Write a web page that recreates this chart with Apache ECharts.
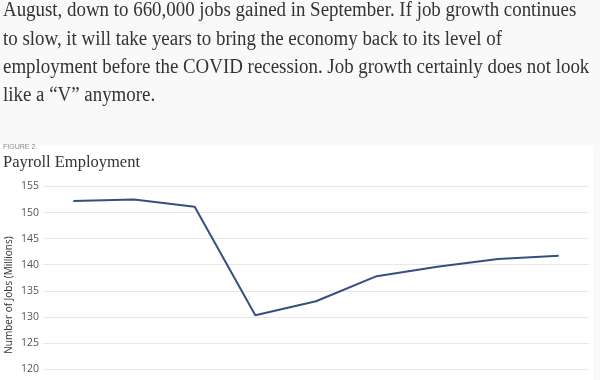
<!DOCTYPE html>
<html>
<head>
<meta charset="utf-8">
<script src="https://cdn.jsdelivr.net/npm/echarts@6/dist/echarts.min.js"></script>
<style>
html,body{margin:0;padding:0;background:#f9f9f9;}
#c{width:600px;height:380px;}
</style>
</head>
<body>
<div id="c"></div>
<script>
var months = ['Jan 2020','Feb 2020','Mar 2020','Apr 2020','May 2020','Jun 2020','Jul 2020','Aug 2020','Sep 2020'];
var payroll = [152.2, 152.5, 151.1, 130.3, 133.0, 137.8, 139.6, 141.1, 141.7];
var yTicks = [120, 125, 130, 135, 140, 145, 150, 155];
var yAxisName = 'Number of Jobs (Millions)';
var paragraph = [
  'August, down to 660,000 jobs gained in September. If job growth continues',
  'to slow, it will take years to bring the economy back to its level of',
  'employment before the COVID recession. Job growth certainly does not look',
  'like a \u201CV\u201D anymore.'
];

var chart = echarts.init(document.getElementById('c'), null, {renderer:'canvas'});
var graphics = [
  {type:'rect', shape:{x:0,y:145,width:593,height:240}, style:{fill:'#ffffff'}, z:-10, silent:true}
];
var lineY = [11, 40, 68, 96];
paragraph.forEach(function(t,i){
  graphics.push({type:'text', x:3, y:lineY[i], scaleX:0.945,
    style:{text:t, font:'20px "Liberation Serif", serif', fill:'#333333', textVerticalAlign:'middle'}});
});
graphics.push({type:'text', x:3, y:147, style:{text:'FIGURE 2.', font:'7px "Liberation Sans", sans-serif', fill:'#888888', textVerticalAlign:'middle'}});
graphics.push({type:'text', x:3, y:163, style:{text:'Payroll Employment', font:'16.5px "Liberation Serif", serif', fill:'#333333', textVerticalAlign:'middle'}});
graphics.push({type:'text', x:9, y:295, rotation:Math.PI/2,
  style:{text:yAxisName, font:'10px "Open Sans", sans-serif', fill:'#333333', textAlign:'center', textVerticalAlign:'middle'}});

chart.setOption({
  backgroundColor:'#f9f9f9',
  animation:false,
  graphic: graphics,
  grid:{left:43, right:11, top:186.5, bottom:11, containLabel:false},
  xAxis:{
    type:'category', data:months, boundaryGap:true,
    axisLine:{show:false}, axisTick:{show:false}, axisLabel:{show:false}
  },
  yAxis:{
    type:'value', min:yTicks[0], max:yTicks[yTicks.length-1], interval:5,
    axisLine:{show:false}, axisTick:{show:false},
    axisLabel:{fontFamily:'Open Sans', fontSize:10.5, color:'#555555', margin:4},
    splitLine:{lineStyle:{color:'#e8e8e8', width:1.2}}
  },
  series:[{
    type:'line', data:payroll, symbol:'none',
    lineStyle:{color:'#34507e', width:2}
  }]
});
</script>
</body>
</html>
